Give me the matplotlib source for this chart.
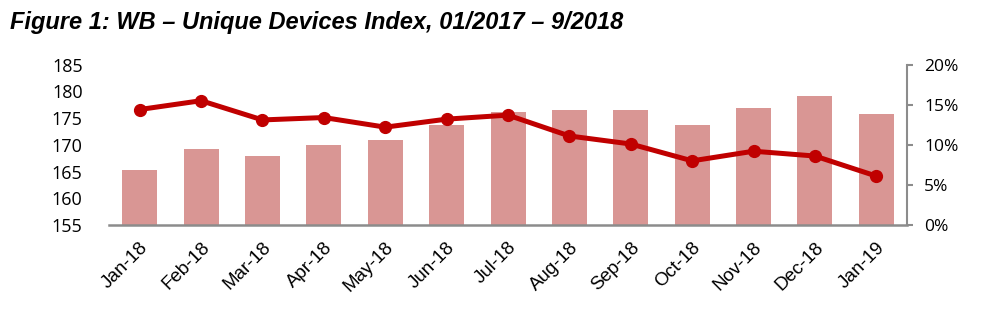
import matplotlib
matplotlib.use('Agg')
import matplotlib.pyplot as plt
from matplotlib.ticker import FuncFormatter

months = ['Jan-18', 'Feb-18', 'Mar-18', 'Apr-18', 'May-18', 'Jun-18', 'Jul-18',
          'Aug-18', 'Sep-18', 'Oct-18', 'Nov-18', 'Dec-18', 'Jan-19']
index_vals = [165.3, 169.2, 167.9, 170.0, 170.9, 173.7, 176.1,
              176.6, 176.6, 173.7, 176.8, 179.1, 175.7]
growth_pct = [14.4, 15.5, 13.1, 13.4, 12.2, 13.2, 13.7,
              11.1, 10.1, 8.0, 9.2, 8.6, 6.1]

bar_color = '#d99694'
line_color = '#c00000'
spine_color = '#8c8c8c'

fig = plt.figure(figsize=(10.04, 3.23), dpi=100)
ax = fig.add_axes([0.1086, 0.3034, 0.7948, 0.4966])
ax2 = ax.twinx()

x = range(len(months))
ax.bar(x, index_vals, width=0.57, color=bar_color, zorder=2)
ax.set_ylim(155, 185)
ax.set_yticks(range(155, 186, 5))
ax.set_xlim(-0.5, len(months) - 0.5)

ax2.plot(x, growth_pct, color=line_color, linewidth=3.6, marker='o',
         markersize=8.5, zorder=3)
ax2.set_ylim(0, 20)
ax2.set_yticks(range(0, 21, 5))
ax2.yaxis.set_major_formatter(FuncFormatter(lambda v, p: f'{v:.0f}%'))

for a in (ax, ax2):
    for s in ('top', 'left', 'right', 'bottom'):
        a.spines[s].set_visible(False)

ax.spines['bottom'].set_visible(True)
ax.spines['bottom'].set_color(spine_color)
ax.spines['bottom'].set_linewidth(1.8)
ax2.spines['right'].set_visible(True)
ax2.spines['right'].set_color(spine_color)
ax2.spines['right'].set_linewidth(1.5)

ax.tick_params(axis='y', length=0, pad=19, labelsize=13)
ax.tick_params(axis='x', length=0, pad=10)
ax2.tick_params(axis='y', direction='out', length=4.5, width=1.5,
                color=spine_color, pad=8, labelsize=12.5)
for lbl in ax.get_yticklabels() + ax2.get_yticklabels():
    lbl.set_fontfamily('Open Sans')

ax.set_xticks(list(x))
ax.set_xticklabels(months, rotation=45, ha='right', rotation_mode='anchor',
                   fontsize=13.5, fontfamily='Liberation Sans')

fig.text(0.01, 0.965, 'Figure 1: WB \u2013 Unique Devices Index, 01/2017 \u2013 9/2018',
         fontsize=17, fontweight='bold', fontstyle='italic',
         fontfamily='Liberation Sans', va='top', ha='left')

fig.savefig('out.png', dpi=100)
